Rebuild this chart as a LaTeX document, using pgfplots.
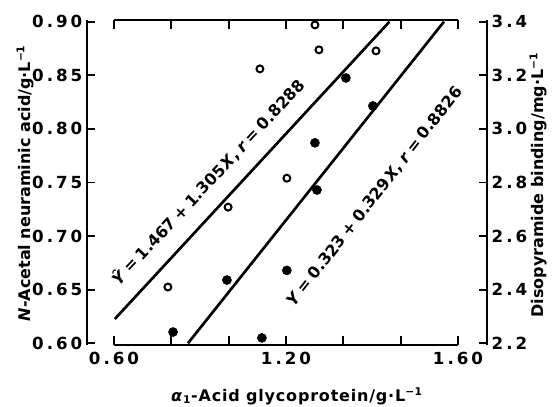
\documentclass[border=0pt]{standalone}
\usepackage{fontspec}
\setmainfont{DejaVu Sans}
\usepackage{pgfplots}
\pgfplotsset{compat=1.18}
\newcommand{\ff}{\bfseries\fontsize{12}{14}\selectfont}
\newcommand{\tf}{\bfseries\fontsize{12.5}{14}\selectfont\addfontfeature{LetterSpace=18}}
\newcommand{\gap}{\kern0.26em}
\pgfplotsset{
  base/.style={scale only axis, width=300pt, height=243.75pt,
    anchor=south west, at={(65.25pt,46.5pt)},
    xmin=0.5058, xmax=1.9012,
    axis x line=none, xtick=\empty,
    tick align=inside, major tick length=6pt,
    axis line style={-, line width=1.6pt},
    every tick/.style={black, line width=1.4pt},
    tick label style={font=\tf},
    label style={font=\ff},
    /pgf/number format/assume math mode=true,
    clip=false},
}
\begin{document}
\begin{tikzpicture}
\path[use as bounding box] (0,0) rectangle (417.75pt,305.25pt);
% left y axis: N-acetyl neuraminic acid (filled dots)
\begin{axis}[base, axis y line*=left,
  ymin=0.59841, ymax=0.90159,
  ytick={0.60,0.65,0.70,0.75,0.80,0.85,0.90},
  yticklabel style={/pgf/number format/.cd, fixed, fixed zerofill, precision=2},
  ylabel={\textit{N}-Acetal neuraminic acid/g·L\textsuperscript{−1}},
  ylabel style={at={(rel axis cs:-0.155,0.498)}, anchor=center, rotate=0}]
\addplot[black, line width=2pt] coordinates {(0.603,0.6227) (1.561,0.9)};
\addplot[black, line width=2pt] coordinates {(0.858,0.6) (1.751,0.9)};
\addplot[only marks, mark=*, mark size=3.4pt, black] coordinates {
(0.806,0.6105) (0.994,0.659) (1.116,0.605) (1.203,0.668)
(1.308,0.743) (1.301,0.787) (1.409,0.8475) (1.503,0.8214)};
\node[rotate=47, font=\ff] at (axis cs:0.928,0.7505)
  {\textit{Ŷ}\gap=\gap1.467\gap+\gap1.305\kern0.1em\textit{X},\gap\textit{r}\gap=\gap0.8288};
\node[rotate=52, font=\ff] at (axis cs:1.510,0.7365)
  {\textit{Y}\gap=\gap0.323\gap+\gap0.329\kern0.1em\textit{X},\gap\textit{r}\gap=\gap0.8826};
\end{axis}
% right y axis: disopyramide binding (open circles)
\begin{axis}[base, axis y line*=right,
  ymin=2.19364, ymax=3.40636,
  ytick={2.2,2.4,2.6,2.8,3.0,3.2,3.4},
  yticklabel style={/pgf/number format/.cd, fixed, fixed zerofill, precision=1},
  ylabel={Disopyramide binding/mg·L\textsuperscript{−1}},
  ylabel style={at={(rel axis cs:1.1275,0.492)}, anchor=center, rotate=0}]
\addplot[only marks, mark=o, mark size=2.6pt, black, mark options={line width=1.5pt}] coordinates {
(0.788,2.410) (0.998,2.708) (1.109,3.224) (1.203,2.816)
(1.301,3.388) (1.315,3.295) (1.514,3.291)};
\end{axis}
% x axis lines (bottom and top)
\begin{axis}[scale only axis, width=258pt, height=243.75pt,
  anchor=south west, at={(85.5pt,46.5pt)},
  xmin=0.6, xmax=1.8, ymin=0, ymax=1,
  axis x line=box, axis y line=none, ytick=\empty,
  xtick={0.6,0.8,1.0,1.2,1.4,1.6,1.8},
  xticklabels={0.60,,,1.20,,,1.60},
  tick align=inside, major tick length=7pt,
  axis line style={-, line width=1.6pt},
  every tick/.style={black, line width=1.4pt},
  tick label style={font=\tf},
  xticklabel style={yshift=-2pt},
  label style={font=\ff},
  xlabel={\addfontfeature{LetterSpace=5}\textit{α}\textsubscript{1}-Acid glycoprotein/g·L\textsuperscript{−1}},
  xlabel style={at={(rel axis cs:0.532,-0.157)}, anchor=center}]
\end{axis}
\end{tikzpicture}
\end{document}
